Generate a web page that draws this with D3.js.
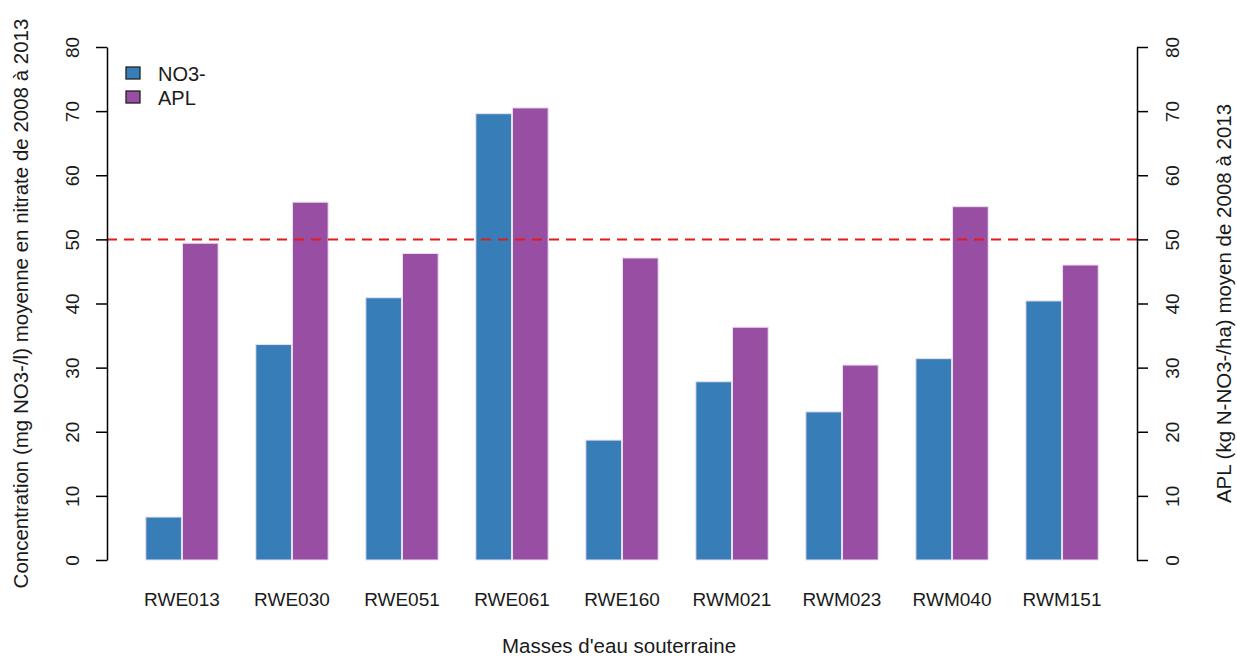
<!DOCTYPE html>
<html>
<head>
<meta charset="utf-8">
<script src="https://cdn.jsdelivr.net/npm/d3@7"></script>
<style>
  html, body { margin: 0; padding: 0; background: #fff; }
  svg { display: block; font-family: "Liberation Sans", Arial, sans-serif; }
</style>
</head>
<body>
<svg id="chart" width="1237" height="657"></svg>
<script>
// Groundwater bodies and their 2008-2013 averages
const categories = ["RWE013", "RWE030", "RWE051", "RWE061", "RWE160", "RWM021", "RWM023", "RWM040", "RWM151"];
const no3Values = [6.7, 33.6, 40.9, 69.6, 18.7, 27.8, 23.1, 31.4, 40.4];
const aplValues = [49.4, 55.8, 47.8, 70.5, 47.1, 36.3, 30.4, 55.1, 46.0];
const seriesNames = ["NO3-", "APL"];
const yTicks = [0, 10, 20, 30, 40, 50, 60, 70, 80];
const threshold = 50;

const colors = { "NO3-": "#377EB8", "APL": "#984EA3" };
const textColor = "#1a1a1a";

const svg = d3.select("#chart");
const plotLeft = 107, plotRight = 1137, plotTop = 47, plotBottom = 560;

const x = d3.scaleBand()
  .domain(categories)
  .range([plotLeft, plotRight])
  .paddingInner(1 / 3)
  .paddingOuter(0.348);

const xSub = d3.scaleBand()
  .domain(seriesNames)
  .range([0, x.bandwidth()]);

const yLeft = d3.scaleLinear().domain([0, 80]).range([plotBottom, plotTop]);
const yRight = d3.scaleLinear().domain([0, 80]).range([plotBottom, plotTop]);

const rows = categories.map((c, i) => ({ cat: c, values: [
  { key: "NO3-", value: no3Values[i] },
  { key: "APL", value: aplValues[i] }
]}));

// Bars
const groups = svg.append("g").selectAll("g")
  .data(rows).join("g")
  .attr("transform", d => `translate(${x(d.cat)},0)`);

groups.selectAll("rect")
  .data(d => d.values).join("rect")
  .attr("x", d => xSub(d.key) + 0.5)
  .attr("y", d => yLeft(d.value))
  .attr("width", xSub.bandwidth() - 1)
  .attr("height", d => yLeft(0) - yLeft(d.value))
  .attr("fill", d => colors[d.key])
  .attr("stroke", "#e9e0ef")
  .attr("stroke-width", 1);

// Threshold line
svg.append("line")
  .attr("x1", plotLeft).attr("x2", plotRight)
  .attr("y1", yLeft(threshold)).attr("y2", yLeft(threshold))
  .attr("stroke", "#E41A1C")
  .attr("stroke-width", 2)
  .attr("stroke-dasharray", "10,7");

// Left axis
const axL = svg.append("g")
  .attr("transform", `translate(${plotLeft},0)`)
  .call(d3.axisLeft(yLeft).tickValues(yTicks).tickSize(11).tickSizeOuter(0).tickPadding(0));
axL.select(".domain").attr("stroke", "#000").attr("stroke-width", 1.5);
axL.selectAll(".tick line").attr("stroke", "#000").attr("stroke-width", 1.5);
axL.selectAll(".tick text")
  .attr("x", null).attr("dy", null)
  .attr("text-anchor", "middle")
  .attr("font-size", 19)
  .attr("fill", textColor)
  .attr("transform", "translate(-35,0) rotate(-90)")
  .attr("y", 0)
  .attr("dy", "0.35em");

// Right axis
const axR = svg.append("g")
  .attr("transform", `translate(${plotRight},0)`)
  .call(d3.axisRight(yRight).tickValues(yTicks).tickSize(11).tickSizeOuter(0).tickPadding(0));
axR.select(".domain").attr("stroke", "#000").attr("stroke-width", 1.5);
axR.selectAll(".tick line").attr("stroke", "#000").attr("stroke-width", 1.5);
axR.selectAll(".tick text")
  .attr("x", null).attr("dy", null)
  .attr("text-anchor", "middle")
  .attr("font-size", 19)
  .attr("fill", textColor)
  .attr("transform", "translate(35,0) rotate(-90)")
  .attr("y", 0)
  .attr("dy", "0.35em");

// Category labels
svg.append("g").selectAll("text")
  .data(categories).join("text")
  .attr("x", d => x(d) + x.bandwidth() / 2)
  .attr("y", 606)
  .attr("text-anchor", "middle")
  .attr("font-size", 19)
  .attr("fill", textColor)
  .text(d => d);

// Axis titles
svg.append("text")
  .attr("x", 619).attr("y", 653)
  .attr("text-anchor", "middle")
  .attr("font-size", 20.5)
  .attr("fill", textColor)
  .text("Masses d'eau souterraine");

svg.append("text")
  .attr("transform", `translate(28,${(plotTop + plotBottom) / 2}) rotate(-90)`)
  .attr("text-anchor", "middle")
  .attr("font-size", 20.5)
  .attr("fill", textColor)
  .text("Concentration (mg NO3-/l) moyenne en nitrate de 2008 à 2013");

svg.append("text")
  .attr("transform", `translate(1231,${(plotTop + plotBottom) / 2}) rotate(-90)`)
  .attr("text-anchor", "middle")
  .attr("font-size", 20.5)
  .attr("fill", textColor)
  .text("APL (kg N-NO3-/ha) moyen de 2008 à 2013");

// Legend
const legend = svg.append("g").selectAll("g")
  .data(seriesNames).join("g")
  .attr("transform", (d, i) => `translate(126,${67 + i * 24})`);
legend.append("rect")
  .attr("width", 14).attr("height", 12)
  .attr("fill", d => colors[d])
  .attr("stroke", "#222").attr("stroke-width", 1.3);
legend.append("text")
  .attr("x", 32).attr("y", 14)
  .attr("font-size", 20)
  .attr("fill", textColor)
  .text(d => d);
</script>
</body>
</html>
